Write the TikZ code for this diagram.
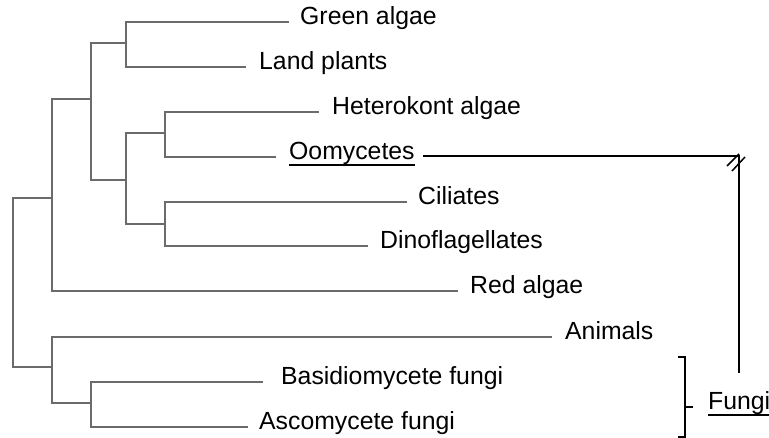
\documentclass[tikz,border=0pt]{standalone}
\usepackage{fontspec}
\setmainfont{Liberation Sans}
\begin{document}
\begin{tikzpicture}[x=1pt,y=-1pt,
  leaf/.style={anchor=mid west,inner sep=0pt,font=\fontsize{24.8}{29}\selectfont},
  tree/.style={draw=black!58,line width=1.5pt},
  link/.style={draw=black,line width=1.8pt},
  brk/.style={draw=black,line width=1.5pt}]
\useasboundingbox (0,0) rectangle (769,438);
% leaves
\node[leaf] (ga) at (300,22) {Green algae};
\node[leaf] (lp) at (259,67) {Land plants};
\node[leaf] (hk) at (332,112) {Heterokont algae};
\node[leaf] (oo) at (289,157) {Oomycetes};
\node[leaf] (ci) at (418,202) {Ciliates};
\node[leaf] (di) at (380,246) {Dinoflagellates};
\node[leaf] (ra) at (470,291) {Red algae};
\node[leaf] (an) at (565,337) {Animals};
\node[leaf] (ba) at (281,382) {Basidiomycete fungi};
\node[leaf] (as) at (259,427) {Ascomycete fungi};
\node[leaf] (fu) at (708,407) {Fungi};
% internal nodes
\coordinate (n1) at (126,43);
\coordinate (n2) at (165,133);
\coordinate (n3) at (165,224);
\coordinate (n4) at (126,180);
\coordinate (n5) at (91,99);
\coordinate (n6) at (52,198);
\coordinate (n7) at (91,403);
\coordinate (n8) at (52,367);
\coordinate (root) at (13,280);
% tree
\draw[tree] ([xshift=-11pt]ga.mid west) -| (n1) |- ([xshift=-13pt]lp.mid west);
\draw[tree] ([xshift=-13pt]hk.mid west) -| (n2) |- ([xshift=-13pt]oo.mid west);
\draw[tree] ([xshift=-11pt]ci.mid west) -| (n3) |- ([xshift=-12pt]di.mid west);
\draw[tree] (n2) -| (n4) |- (n3);
\draw[tree] (n1) -| (n5) |- (n4);
\draw[tree] (n5) -| (n6) |- ([xshift=-12pt]ra.mid west);
\draw[tree] ([xshift=-18pt]ba.mid west) -| (n7) |- ([xshift=-11pt]as.mid west);
\draw[tree] ([xshift=-13pt]an.mid west) -| (n8) |- (n7);
\draw[tree] (n6) -| (root) |- (n8);
% underlines
\draw[line width=1.3pt] ([yshift=-5.5pt]oo.base west) -- ([yshift=-5.5pt]oo.base east);
\draw[line width=1.3pt] ([yshift=-5.5pt]fu.base west) -- ([yshift=-5.5pt]fu.base east);
% oomycetes to fungi link
\coordinate (ftop) at ([yshift=18pt]fu.north);
\draw[link] ([xshift=8pt,yshift=1pt]oo.mid east) -| (ftop);
\draw[brk] (727,166) -- (739,154);
\draw[brk] (732,171) -- (745,157);
% bracket
\draw[brk] (678,357) -- (685,357) -- (685,437) -- (678,437);
\draw[brk] (685,407) -- (693,407);
\end{tikzpicture}
\end{document}
